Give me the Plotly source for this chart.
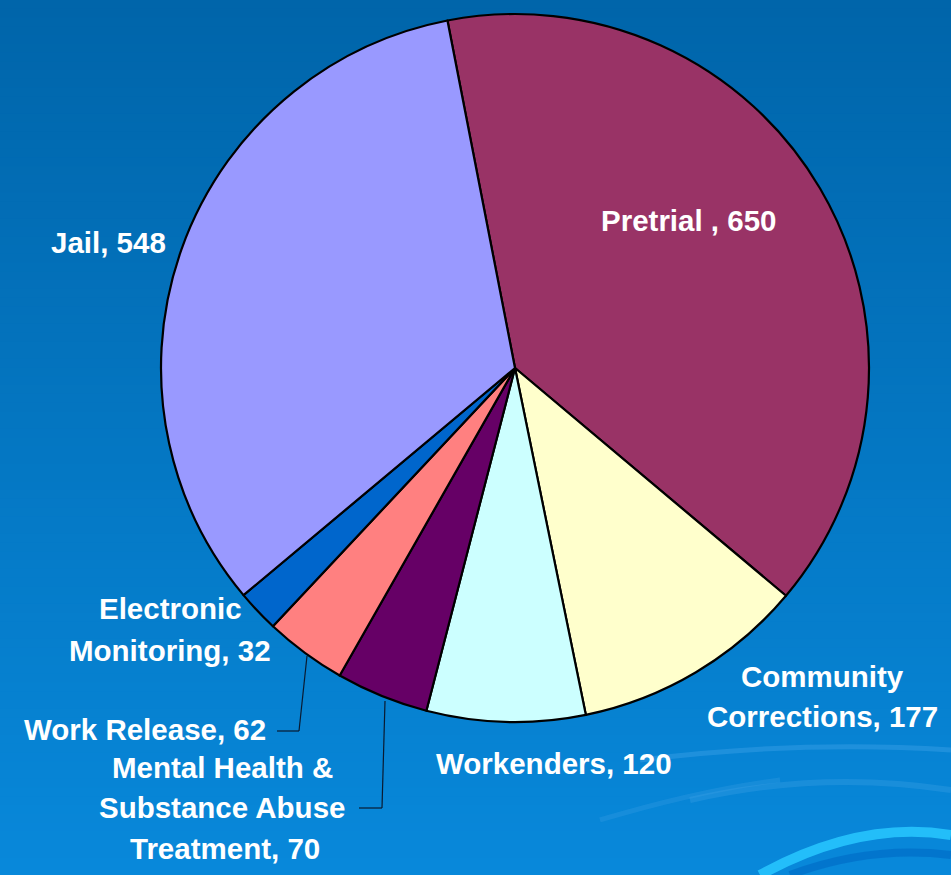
import plotly.graph_objects as go

categories = ["Pretrial", "Community Corrections", "Workenders",
              "Mental Health & Substance Abuse Treatment", "Work Release",
              "Electronic Monitoring", "Jail"]
values = [650, 177, 120, 70, 62, 32, 548]
colors = ["#993366", "#FFFFCC", "#CCFFFF", "#660066", "#FF8080", "#0066CC", "#9999FF"]

W, H = 951, 875

fig = go.Figure(go.Pie(
    labels=categories, values=values, sort=False, direction="clockwise",
    rotation=-11, textinfo="none", hoverinfo="skip",
    marker=dict(colors=colors, line=dict(color="black", width=2.2)),
    domain=dict(x=[161 / W, 869 / W], y=[1 - 722 / H, 1 - 14 / H]),
    showlegend=False,
))

shapes = []
# vertical background gradient
N = 100
top = (0, 101, 170)
bot = (8, 136, 218)
for i in range(N):
    t = i / (N - 1)
    c = tuple(round(top[k] + (bot[k] - top[k]) * t) for k in range(3))
    shapes.append(dict(type="rect", xref="paper", yref="paper", layer="below",
                       x0=0, x1=1, y0=1 - (i + 1) / N - 0.001, y1=1 - i / N,
                       fillcolor="rgb(%d,%d,%d)" % c, line=dict(width=0)))


def px(x, y):
    return x / W, 1 - y / H


# faint decorative arcs at bottom right
arcs = [
    ([(640, 760), (800, 740), (951, 750)], "rgba(60,160,230,0.45)", 5),
    ([(690, 800), (820, 770), (951, 790)], "rgba(60,160,230,0.35)", 6),
    ([(600, 820), (700, 790), (780, 780)], "rgba(60,160,230,0.3)", 5),
    ([(760, 875), (860, 820), (951, 835)], "rgba(40,200,255,0.85)", 10),
    ([(790, 875), (870, 845), (951, 855)], "rgba(0,110,200,0.7)", 8),
]
for pts, col, w in arcs:
    (a, b, c) = [px(*p) for p in pts]
    path = "M%.4f,%.4f Q%.4f,%.4f %.4f,%.4f" % (a[0], a[1], b[0], b[1], c[0], c[1])
    shapes.append(dict(type="path", xref="paper", yref="paper", layer="below",
                       path=path, line=dict(color=col, width=w)))

# leader lines
leaders = [
    [(277, 731), (299, 731), (307, 656)],
    [(359, 808), (382, 808), (385, 701)],
]
for pts in leaders:
    for a, b in zip(pts[:-1], pts[1:]):
        x0, y0 = px(*a)
        x1, y1 = px(*b)
        shapes.append(dict(type="line", xref="paper", yref="paper",
                           x0=x0, y0=y0, x1=x1, y1=y1,
                           line=dict(color="#0a1a30", width=1.2)))

label_lines = [
    ("Pretrial , 650", 688, 220),
    ("Jail, 548", 108, 242),
    ("Electronic", 170, 608),
    ("Monitoring, 32", 170, 650),
    ("Work Release, 62", 145, 729),
    ("Mental Health &", 222, 767),
    ("Substance Abuse", 222, 807),
    ("Treatment, 70", 225, 848),
    ("Workenders, 120", 554, 763),
    ("Community", 822, 676),
    ("Corrections, 177", 822, 716),
]
annotations = []
for txt, x, y in label_lines:
    xx, yy = px(x, y)
    annotations.append(dict(text="<b>%s</b>" % txt, x=xx, y=yy, xref="paper", yref="paper",
                            showarrow=False, xanchor="center", yanchor="middle",
                            font=dict(family="Liberation Sans, Arial, sans-serif",
                                      size=29.5, color="white")))

fig.update_layout(width=W, height=H, margin=dict(l=0, r=0, t=0, b=0),
                  paper_bgcolor="#0a6fb8", plot_bgcolor="rgba(0,0,0,0)",
                  shapes=shapes, annotations=annotations)
fig.write_html("out.html", config={"displayModeBar": False},
               post_script="document.body.style.margin='0';document.body.style.padding='0';")
